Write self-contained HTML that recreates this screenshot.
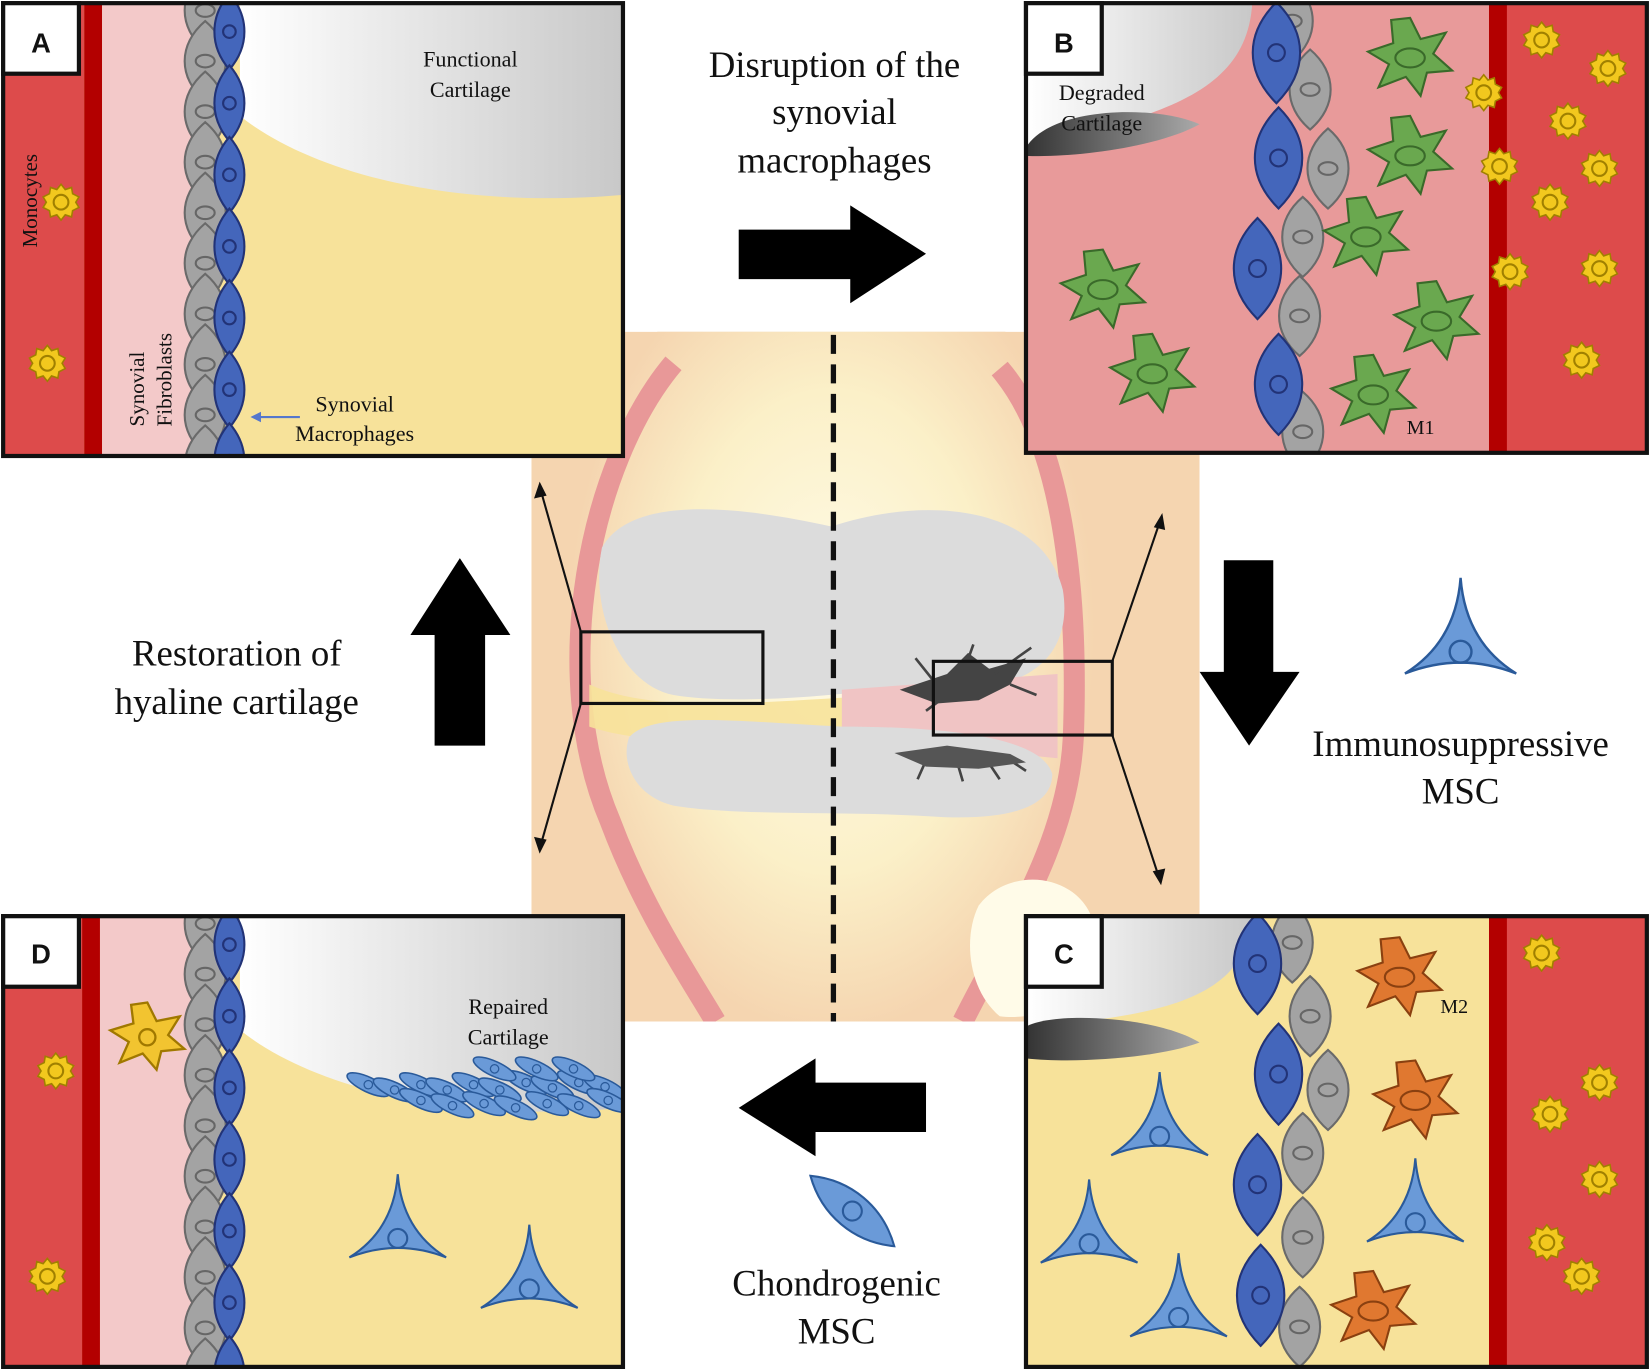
<!DOCTYPE html>
<html><head><meta charset="utf-8"><style>
html,body{margin:0;padding:0;background:#fff}
svg{display:block}
text{font-family:"Liberation Serif",serif;fill:#111}
</style></head><body>
<svg width="1650" height="1369" viewBox="0 0 1568 1300" preserveAspectRatio="none" xmlns="http://www.w3.org/2000/svg">
<defs>
<linearGradient id="cart" x1="0" y1="0" x2="1" y2="0"><stop offset="0" stop-color="#fff"/><stop offset="1" stop-color="#c8c8c8"/></linearGradient>
<linearGradient id="deg" x1="0" y1="0" x2="1" y2="0"><stop offset="0" stop-color="#333"/><stop offset="1" stop-color="#aaa"/></linearGradient>
<radialGradient id="glow" cx="0.5" cy="0.5" r="0.5"><stop offset="0" stop-color="#fffbe8"/><stop offset="0.6" stop-color="#fbf0c8"/><stop offset="1" stop-color="#f5d5b0"/></radialGradient>
<g id="grey"><path d="M0,-38 C26,-16 26,16 0,38 C-26,16 -26,-16 0,-38Z" fill="#a3a3a3" stroke="#6a6a6a" stroke-width="2"/><ellipse rx="9" ry="6" fill="none" stroke="#666" stroke-width="2"/></g>
<g id="blue"><path d="M0,-36 C19,-14 19,14 0,36 C-19,14 -19,-14 0,-36Z" fill="#4466bb" stroke="#223377" stroke-width="2"/><circle r="6" fill="none" stroke="#223377" stroke-width="2"/></g>
<g id="bigblue"><path d="M0,-48 C30,-18 30,18 0,48 C-30,18 -30,-18 0,-48Z" fill="#4466bb" stroke="#223377" stroke-width="2"/><circle r="8" fill="none" stroke="#223377" stroke-width="2"/></g>
<g id="mono"><polygon points="0,-17 4,-12 10,-14 11,-8 17,-5 14,0 17,5 11,8 10,14 4,12 0,17 -4,12 -10,14 -11,8 -17,5 -14,0 -17,-5 -11,-8 -10,-14 -4,-12" fill="#f2c81e" stroke="#a08000" stroke-width="1.5"/><circle r="7" fill="none" stroke="#a08000" stroke-width="2"/></g>
<g id="m1"><polygon points="0,-38 10,-18 34,-24 22,-4 40,12 16,14 10,36 -4,18 -30,28 -20,6 -40,-6 -16,-14 -18,-36" fill="#6aa84f" stroke="#3a6a2a" stroke-width="2"/><ellipse rx="14" ry="9" fill="none" stroke="#3a6a2a" stroke-width="2"/></g>
<g id="m2"><polygon points="0,-38 10,-18 34,-24 22,-4 40,12 16,14 10,36 -4,18 -30,28 -20,6 -40,-6 -16,-14 -18,-36" fill="#e07830" stroke="#8a4010" stroke-width="2"/><ellipse rx="14" ry="9" fill="none" stroke="#8a4010" stroke-width="2"/></g>
<g id="msc"><path d="M0,-55 Q4,-2 46,24 Q0,6 -46,24 Q-4,-2 0,-55Z" fill="#6a9ad8" stroke="#2a5a9a" stroke-width="2"/><circle cy="6" r="9" fill="none" stroke="#2a5a9a" stroke-width="2"/></g>
<g id="chon"><ellipse rx="22" ry="7" transform="rotate(25)" fill="#6a9ad8" stroke="#2a5a9a" stroke-width="1.5"/><circle r="4" fill="none" stroke="#2a5a9a" stroke-width="1.2"/></g>
<g id="colA">
<use href="#grey" x="195" y="10"/><use href="#grey" x="195" y="58"/><use href="#grey" x="195" y="106"/><use href="#grey" x="195" y="154"/><use href="#grey" x="195" y="202"/><use href="#grey" x="195" y="250"/><use href="#grey" x="195" y="298"/><use href="#grey" x="195" y="346"/><use href="#grey" x="195" y="394"/><use href="#grey" x="195" y="442"/>
<use href="#blue" x="218" y="30"/><use href="#blue" x="218" y="98"/><use href="#blue" x="218" y="166"/><use href="#blue" x="218" y="234"/><use href="#blue" x="218" y="302"/><use href="#blue" x="218" y="370"/><use href="#blue" x="218" y="438"/>
</g>
<clipPath id="cA"><rect x="3" y="3" width="589" height="430"/></clipPath>
<clipPath id="cD"><rect x="3" y="870" width="589" height="428"/></clipPath>
<clipPath id="cB"><rect x="975" y="3" width="590" height="427"/></clipPath>
<clipPath id="cC"><rect x="975" y="870" width="590" height="428"/></clipPath>
<clipPath id="cK"><rect x="505" y="315" width="635" height="655"/></clipPath>
</defs>

<!-- KNEE -->
<g clip-path="url(#cK)">
<rect x="505" y="315" width="635" height="655" fill="#f5d5b0"/>
<ellipse cx="790" cy="600" rx="250" ry="380" fill="url(#glow)"/>
<path d="M640,345 C560,440 520,640 580,780 C610,860 650,920 680,970" fill="none" stroke="#e89898" stroke-width="20"/>
<path d="M950,350 C1010,420 1025,560 1020,700 C1015,800 960,880 915,970" fill="none" stroke="#e89898" stroke-width="20"/>
<path d="M572,520 C600,470 700,480 790,500 C880,470 990,480 1010,560 C1020,620 980,665 880,650 C800,660 700,670 640,660 C590,650 560,580 572,520Z" fill="#dcdcdc"/>
<path d="M560,650 C650,690 800,650 990,660 L990,700 C800,690 650,720 560,690Z" fill="#f7e29a" opacity="0.9"/>
<path d="M800,655 L1005,640 L1005,720 L800,700Z" fill="#f0c4c4"/>
<path d="M598,700 C620,675 700,685 800,690 C900,690 990,700 1000,735 C1000,770 950,780 880,775 C800,770 700,775 640,765 C600,755 590,720 598,700Z" fill="#dcdcdc"/>
<path d="M855,655 L900,640 L920,620 L940,635 L975,625 L960,650 L930,665 L890,668Z" fill="#444"/>
<g stroke="#444" stroke-width="2.5"><line x1="890" y1="650" x2="870" y2="625"/><line x1="915" y1="640" x2="925" y2="612"/><line x1="945" y1="640" x2="980" y2="615"/><line x1="960" y1="650" x2="985" y2="660"/><line x1="900" y1="660" x2="880" y2="675"/><line x1="880" y1="722" x2="872" y2="740"/><line x1="910" y1="725" x2="915" y2="742"/><line x1="940" y1="725" x2="950" y2="740"/><line x1="960" y1="722" x2="975" y2="732"/></g>
<path d="M850,715 L900,708 L960,716 L975,724 L930,730 L880,728Z" fill="#555"/>
<path d="M930,860 C960,820 1030,830 1040,880 C1040,950 990,970 950,965 C920,940 915,890 930,860Z" fill="#fffbe8"/>
</g>
<line x1="792" y1="318" x2="792" y2="970" stroke="#111" stroke-width="5" stroke-dasharray="18,10"/>
<rect x="552" y="600" width="173" height="68" fill="none" stroke="#111" stroke-width="3"/>
<rect x="887" y="628" width="170" height="70" fill="none" stroke="#111" stroke-width="3"/>
<g stroke="#111" stroke-width="2" fill="#111">
<line x1="552" y1="600" x2="514" y2="466"/><polygon points="513,460 509,472 518,470"/>
<line x1="552" y1="668" x2="514" y2="802"/><polygon points="513,808 509,796 518,798"/>
<line x1="1057" y1="628" x2="1102" y2="496"/><polygon points="1104,490 1098,500 1106,502"/>
<line x1="1057" y1="698" x2="1101" y2="832"/><polygon points="1103,838 1097,828 1106,826"/>
</g>

<!-- PANEL A -->
<g clip-path="url(#cA)">
<rect x="3" y="3" width="589" height="430" fill="#f7e29a"/>
<rect x="3" y="3" width="77" height="430" fill="#dd4b4b"/>
<rect x="80" y="3" width="17" height="430" fill="#b30000"/>
<rect x="97" y="3" width="90" height="430" fill="#f3c9c9"/>
<path d="M228,3 L592,3 L592,185 C420,200 290,160 228,110Z" fill="url(#cart)"/>
<use href="#colA"/>
<use href="#mono" x="58" y="192"/><use href="#mono" x="45" y="345"/>
</g>
<rect x="3" y="3" width="589" height="430" fill="none" stroke="#111" stroke-width="4"/>
<rect x="3" y="3" width="72" height="67" fill="#fff" stroke="#111" stroke-width="4"/>
<text x="39" y="50" text-anchor="middle" font-weight="bold" font-size="26" style="font-family:'Liberation Sans',sans-serif">A</text>
<text x="447" y="63" text-anchor="middle" font-size="21">Functional</text>
<text x="447" y="92" text-anchor="middle" font-size="21">Cartilage</text>
<text transform="translate(35,235) rotate(-90)" font-size="20">Monocytes</text>
<text transform="translate(137,405) rotate(-90)" font-size="20">Synovial</text>
<text transform="translate(163,405) rotate(-90)" font-size="20">Fibroblasts</text>
<text x="337" y="391" text-anchor="middle" font-size="21">Synovial</text>
<text x="337" y="419" text-anchor="middle" font-size="21">Macrophages</text>
<line x1="285" y1="396" x2="245" y2="396" stroke="#5577cc" stroke-width="2"/><polygon points="238,396 248,391 248,401" fill="#5577cc"/>

<!-- PANEL D -->
<g clip-path="url(#cD)">
<rect x="3" y="870" width="589" height="428" fill="#f7e29a"/>
<rect x="3" y="870" width="75" height="428" fill="#dd4b4b"/>
<rect x="78" y="870" width="17" height="428" fill="#b30000"/>
<rect x="95" y="870" width="92" height="428" fill="#f3c9c9"/>
<path d="M228,870 L592,870 L592,1052 C420,1068 290,1028 228,978Z" fill="url(#cart)"/>
<g transform="translate(0,867)"><use href="#colA"/></g>
<use href="#mono" x="53" y="1017"/><use href="#mono" x="45" y="1212"/>
<g transform="translate(140,985) scale(1.1)"><polygon points="0,-30 8,-14 28,-18 18,-2 32,10 12,12 8,28 -4,14 -24,22 -16,4 -32,-6 -12,-12 -14,-28" fill="#f2c430" stroke="#a07800" stroke-width="2"/><circle r="7" fill="none" stroke="#a07800" stroke-width="2"/></g>
<g>
<use href="#chon" x="350" y="1030"/><use href="#chon" x="375" y="1035"/><use href="#chon" x="400" y="1030"/><use href="#chon" x="425" y="1035"/><use href="#chon" x="450" y="1030"/><use href="#chon" x="475" y="1035"/><use href="#chon" x="500" y="1028"/><use href="#chon" x="525" y="1033"/><use href="#chon" x="550" y="1028"/><use href="#chon" x="575" y="1032"/>
<use href="#chon" x="400" y="1045"/><use href="#chon" x="430" y="1050"/><use href="#chon" x="460" y="1048"/><use href="#chon" x="490" y="1052"/><use href="#chon" x="520" y="1048"/><use href="#chon" x="550" y="1050"/><use href="#chon" x="578" y="1045"/>
<use href="#chon" x="470" y="1015"/><use href="#chon" x="510" y="1015"/><use href="#chon" x="545" y="1015"/>
</g>
<use href="#msc" x="378" y="1170"/><use href="#msc" x="503" y="1218"/>
</g>
<rect x="3" y="870" width="589" height="428" fill="none" stroke="#111" stroke-width="4"/>
<rect x="3" y="870" width="72" height="67" fill="#fff" stroke="#111" stroke-width="4"/>
<text x="39" y="915" text-anchor="middle" font-weight="bold" font-size="26" style="font-family:'Liberation Sans',sans-serif">D</text>
<text x="483" y="963" text-anchor="middle" font-size="21">Repaired</text>
<text x="483" y="992" text-anchor="middle" font-size="21">Cartilage</text>

<!-- PANEL B -->
<g clip-path="url(#cB)">
<rect x="975" y="3" width="590" height="427" fill="#e89a9a"/>
<rect x="1415" y="3" width="150" height="427" fill="#dd4b4b"/>
<rect x="1415" y="3" width="17" height="427" fill="#b30000"/>
<path d="M975,3 L1190,3 C1185,90 1100,110 975,140Z" fill="url(#cart)"/>
<path d="M975,140 C1000,100 1100,100 1140,118 C1100,140 1020,150 975,148Z" fill="url(#deg)"/>
<use href="#grey" x="1228" y="20"/><use href="#grey" x="1245" y="85"/><use href="#grey" x="1262" y="160"/><use href="#grey" x="1238" y="225"/><use href="#grey" x="1235" y="300"/><use href="#grey" x="1238" y="410"/>
<use href="#bigblue" x="1213" y="50"/><use href="#bigblue" x="1215" y="150"/><use href="#bigblue" x="1195" y="255"/><use href="#bigblue" x="1215" y="365"/>
<use href="#m1" x="1340" y="55"/><use href="#m1" x="1340" y="148"/><use href="#m1" x="1298" y="225"/><use href="#m1" x="1048" y="275"/><use href="#m1" x="1365" y="305"/><use href="#m1" x="1095" y="355"/><use href="#m1" x="1305" y="375"/>
<use href="#mono" x="1465" y="38"/><use href="#mono" x="1528" y="65"/><use href="#mono" x="1410" y="88"/><use href="#mono" x="1490" y="115"/><use href="#mono" x="1425" y="158"/><use href="#mono" x="1520" y="160"/><use href="#mono" x="1473" y="192"/><use href="#mono" x="1435" y="258"/><use href="#mono" x="1520" y="255"/><use href="#mono" x="1503" y="342"/>
</g>
<rect x="975" y="3" width="590" height="427" fill="none" stroke="#111" stroke-width="4"/>
<rect x="975" y="3" width="72" height="67" fill="#fff" stroke="#111" stroke-width="4"/>
<text x="1011" y="50" text-anchor="middle" font-weight="bold" font-size="26" style="font-family:'Liberation Sans',sans-serif">B</text>
<text x="1047" y="95" text-anchor="middle" font-size="21">Degraded</text>
<text x="1047" y="124" text-anchor="middle" font-size="21">Cartilage</text>
<text x="1350" y="412" text-anchor="middle" font-size="19">M1</text>

<!-- PANEL C -->
<g clip-path="url(#cC)">
<rect x="975" y="870" width="590" height="428" fill="#f7e29a"/>
<rect x="1415" y="870" width="150" height="428" fill="#dd4b4b"/>
<rect x="1415" y="870" width="17" height="428" fill="#b30000"/>
<path d="M975,870 L1190,870 C1185,950 1100,965 975,975Z" fill="url(#cart)"/>
<path d="M975,975 C1000,960 1100,965 1140,990 C1100,1005 1020,1010 975,1005Z" fill="url(#deg)"/>
<use href="#grey" x="1228" y="895"/><use href="#grey" x="1245" y="965"/><use href="#grey" x="1262" y="1035"/><use href="#grey" x="1238" y="1095"/><use href="#grey" x="1238" y="1175"/><use href="#grey" x="1235" y="1260"/>
<use href="#bigblue" x="1195" y="915"/><use href="#bigblue" x="1215" y="1020"/><use href="#bigblue" x="1195" y="1125"/><use href="#bigblue" x="1198" y="1230"/>
<use href="#m2" x="1330" y="928"/><use href="#m2" x="1345" y="1045"/><use href="#m2" x="1305" y="1245"/>
<use href="#msc" x="1102" y="1073"/><use href="#msc" x="1035" y="1175"/><use href="#msc" x="1345" y="1155"/><use href="#msc" x="1120" y="1245"/>
<use href="#mono" x="1465" y="905"/><use href="#mono" x="1520" y="1028"/><use href="#mono" x="1473" y="1058"/><use href="#mono" x="1520" y="1120"/><use href="#mono" x="1470" y="1180"/><use href="#mono" x="1503" y="1212"/>
</g>
<rect x="975" y="870" width="590" height="428" fill="none" stroke="#111" stroke-width="4"/>
<rect x="975" y="870" width="72" height="67" fill="#fff" stroke="#111" stroke-width="4"/>
<text x="1011" y="915" text-anchor="middle" font-weight="bold" font-size="26" style="font-family:'Liberation Sans',sans-serif">C</text>
<text x="1382" y="962" text-anchor="middle" font-size="19">M2</text>

<!-- BIG ARROWS -->
<polygon points="702,218 808,218 808,195 880,241 808,288 808,265 702,265" fill="#000"/>
<polygon points="1158,532 1210,532 1210,638 1235,638 1187,708 1140,638 1163,638 1163,532" fill="#000"/>
<polygon points="880,1028 775,1028 775,1005 702,1052 775,1098 775,1075 880,1075" fill="#000"/>
<polygon points="413,708 461,708 461,603 485,603 437,530 390,603 413,603" fill="#000"/>

<!-- Labels -->
<text x="793" y="73" text-anchor="middle" font-size="35">Disruption of the</text>
<text x="793" y="118" text-anchor="middle" font-size="35">synovial</text>
<text x="793" y="164" text-anchor="middle" font-size="35">macrophages</text>
<text x="225" y="632" text-anchor="middle" font-size="35">Restoration of</text>
<text x="225" y="678" text-anchor="middle" font-size="35">hyaline cartilage</text>
<text x="1388" y="718" text-anchor="middle" font-size="35">Immunosuppressive</text>
<text x="1388" y="763" text-anchor="middle" font-size="35">MSC</text>
<text x="795" y="1230" text-anchor="middle" font-size="35">Chondrogenic</text>
<text x="795" y="1276" text-anchor="middle" font-size="35">MSC</text>
<g transform="translate(1388,612) scale(1.15)"><use href="#msc"/></g>
<g transform="translate(810,1150) rotate(-50)"><path d="M0,-52 C22,-20 22,20 0,52 C-22,20 -22,-20 0,-52Z" fill="#6a9ad8" stroke="#2a5a9a" stroke-width="2"/><circle r="9" fill="none" stroke="#2a5a9a" stroke-width="2"/></g>
</svg>
</body></html>
